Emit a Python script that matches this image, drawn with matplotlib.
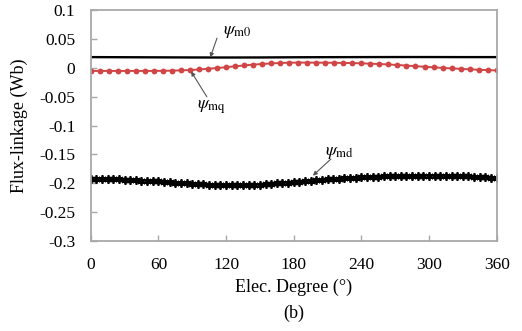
"""
Flux-linkage components vs electrical degree (figure (b))
"""

import numpy as np
import matplotlib
matplotlib.use("Agg")
import matplotlib.pyplot as plt

# ============================================================================
# DATA
# ============================================================================

# psi_m0 : plain line, read every 30 deg
deg_m0 = np.arange(0, 361, 30)
psi_m0 = [0.0190, 0.0188, 0.0186, 0.0184, 0.0183, 0.0184, 0.0187,
          0.0189, 0.0190, 0.0191, 0.0191, 0.0190, 0.0190]

# psi_mq : red markers, read every 8 deg
deg_mq = np.arange(0, 361, 8)
psi_mq = [-0.0050, -0.0050, -0.0050, -0.0050, -0.0050, -0.0050, -0.0050,
          -0.0050, -0.0048, -0.0045, -0.0040, -0.0035, -0.0025, -0.0013,
          0.0000, 0.0015, 0.0030, 0.0045, 0.0060, 0.0070, 0.0080, 0.0088,
          0.0093, 0.0095, 0.0095, 0.0094, 0.0093, 0.0091, 0.0089, 0.0086,
          0.0082, 0.0076, 0.0070, 0.0062, 0.0053, 0.0043, 0.0033, 0.0022,
          0.0012, 0.0003, -0.0006, -0.0014, -0.0022, -0.0030, -0.0036,
          -0.0042]

# psi_md : black asterisks, read every 5 deg
deg_md = np.arange(0, 361, 5)
psi_md = [-0.1920, -0.1922, -0.1925, -0.1928, -0.1930, -0.1935, -0.1940,
          -0.1945, -0.1950, -0.1955, -0.1960, -0.1965, -0.1970, -0.1977,
          -0.1985, -0.1992, -0.2000, -0.2005, -0.2010, -0.2017, -0.2023,
          -0.2028, -0.2032, -0.2036, -0.2040, -0.2040, -0.2038, -0.2035,
          -0.2032, -0.2030, -0.2025, -0.2018, -0.2010, -0.2003, -0.1996,
          -0.1990, -0.1985, -0.1975, -0.1965, -0.1955, -0.1948, -0.1940,
          -0.1935, -0.1930, -0.1922, -0.1915, -0.1910, -0.1905, -0.1900,
          -0.1895, -0.1890, -0.1887, -0.1884, -0.1881, -0.1880, -0.1878,
          -0.1876, -0.1874, -0.1872, -0.1871, -0.1870, -0.1870, -0.1871,
          -0.1873, -0.1875, -0.1878, -0.1880, -0.1884, -0.1888, -0.1893,
          -0.1898, -0.1904, -0.1910]

x_ticks = [0, 60, 120, 180, 240, 300, 360]
y_ticks = [-0.3, -0.25, -0.2, -0.15, -0.1, -0.05, 0, 0.05, 0.1]
y_labels = ["-0.3", "-0.25", "-0.2", "-0.15", "-0.1", "-0.05", "0", "0.05", "0.1"]

# ============================================================================
# PLOT
# ============================================================================

plt.rcParams['font.family'] = ['Liberation Serif', 'DejaVu Serif']
plt.rcParams['mathtext.fontset'] = 'stix'

fig = plt.figure(figsize=(5.22, 3.31), dpi=100)
ax = fig.add_axes([0.1738, 0.2728, 0.7777, 0.6955])

ax.plot(deg_md, psi_md, color='black', linewidth=1.6,
        marker=(6, 2, 0), markersize=6, markeredgewidth=1.3)
ax.plot(deg_mq, psi_mq, color='#d04545', linewidth=1.4,
        marker='o', markersize=4.2, markeredgewidth=0)
ax.plot(deg_m0, psi_m0, color='black', linewidth=1.7)

ax.set_xlim(0, 360)
ax.set_ylim(-0.3, 0.1)
ax.set_xticks(x_ticks)
ax.set_yticks(y_ticks)
ax.set_yticklabels(y_labels)

for side in ax.spines.values():
    side.set_color('#a8a8a8')
    side.set_linewidth(1.3)

ax.tick_params(axis='both', direction='in', length=4, width=1,
               color='#a8a8a8', labelsize=12.5, pad=11)
ax.tick_params(axis='x', pad=12)

ax.set_xlabel("Elec. Degree (°)", fontsize=13, labelpad=4)
ax.set_ylabel("Flux-linkage (Wb)", fontsize=13, labelpad=8)
fig.text(0.562, 0.04, "(b)", fontsize=13, ha='center')

# labels with leader lines
arrow_kw = dict(arrowstyle='-|>', color='#555555', lw=0.8,
                mutation_scale=6, shrinkA=0, shrinkB=0)

ax.text(117, 0.064, r"$\psi_{\rm m0}$", fontsize=13, ha='left', va='center')
ax.annotate('', xy=(106, 0.0185), xytext=(112, 0.052), arrowprops=arrow_kw)

ax.text(94, -0.068, r"$\psi_{\rm mq}$", fontsize=13, ha='left', va='center')
ax.annotate('', xy=(89, -0.006), xytext=(103, -0.050), arrowprops=arrow_kw)

ax.text(208, -0.146, r"$\psi_{\rm md}$", fontsize=13, ha='left', va='center')
ax.annotate('', xy=(197, -0.187), xytext=(213, -0.158), arrowprops=arrow_kw)

plt.savefig("out.png", dpi=100)
